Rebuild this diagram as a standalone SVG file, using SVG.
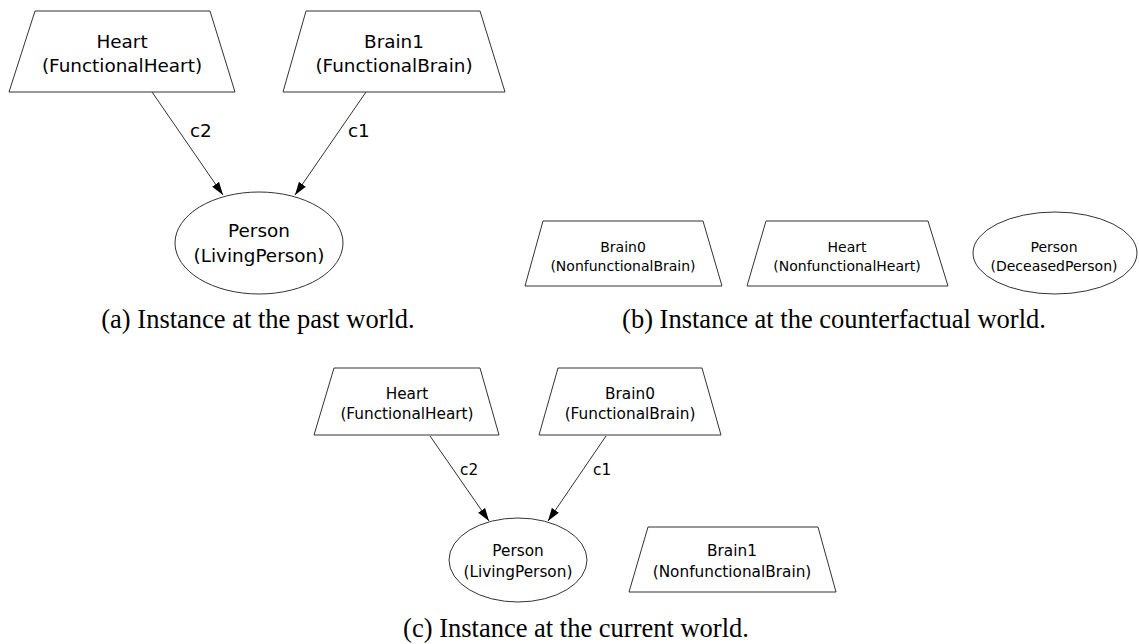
<svg xmlns="http://www.w3.org/2000/svg" width="1139" height="644" viewBox="0 0 1139 644">
  <style>
    .shape { fill: #ffffff; stroke: #333333; stroke-width: 1; }
    .edge { fill: none; stroke: #333333; stroke-width: 1; }
    .lbl { font-family: "DejaVu Sans", sans-serif; fill: #000000; text-anchor: middle; }
    .elbl { font-family: "DejaVu Sans", sans-serif; fill: #000000; }
    .a { font-size: 18.4px; }
    .b { font-size: 14px; }
    .c { font-size: 15.3px; }
    .cap { font-family: "Liberation Serif", serif; font-size: 26.5px; fill: #000000; text-anchor: middle; }
  </style>
  <defs>
    <marker id="arrow" markerUnits="userSpaceOnUse" markerWidth="14" markerHeight="10" refX="13" refY="5" orient="auto">
      <path d="M0,0.8 L13,5 L0,9.2 Z" fill="#000000"/>
    </marker>
  </defs>

  <rect width="1139" height="644" fill="#ffffff"/>

  <!-- (a) past world -->
  <g id="a-connectors">
    <line class="edge" x1="152" y1="92" x2="223" y2="195" marker-end="url(#arrow)"/>
    <line class="edge" x1="366" y1="92" x2="295" y2="195" marker-end="url(#arrow)"/>
    <text class="elbl a" x="190" y="137">c2</text>
    <text class="elbl a" x="348" y="137">c1</text>
  </g>
  <g id="a-heart">
    <polygon class="shape" points="35,11 210,11 235,92 9,92"/>
    <text class="lbl a" x="122" y="48">Heart</text>
    <text class="lbl a" x="122" y="72">(FunctionalHeart)</text>
  </g>
  <g id="a-brain1">
    <polygon class="shape" points="306,11 480,11 505,92 283,92"/>
    <text class="lbl a" x="394" y="48">Brain1</text>
    <text class="lbl a" x="394" y="72">(FunctionalBrain)</text>
  </g>
  <g id="a-person">
    <ellipse class="shape" cx="259" cy="243" rx="84" ry="51"/>
    <text class="lbl a" x="259" y="237">Person</text>
    <text class="lbl a" x="259" y="262">(LivingPerson)</text>
  </g>
  <text class="cap" x="258" y="328">(a) Instance at the past world.</text>

  <!-- (b) counterfactual world -->
  <g id="b-brain0">
    <polygon class="shape" points="543,221 703,221 722,286 525,286"/>
    <text class="lbl b" x="623" y="252">Brain0</text>
    <text class="lbl b" x="623" y="271">(NonfunctionalBrain)</text>
  </g>
  <g id="b-heart">
    <polygon class="shape" points="766,221 928,221 948,286 747,286"/>
    <text class="lbl b" x="847" y="252">Heart</text>
    <text class="lbl b" x="847" y="271">(NonfunctionalHeart)</text>
  </g>
  <g id="b-person">
    <ellipse class="shape" cx="1055" cy="253" rx="82" ry="41"/>
    <text class="lbl b" x="1054" y="252">Person</text>
    <text class="lbl b" x="1054" y="271">(DeceasedPerson)</text>
  </g>
  <text class="cap" x="834" y="328">(b) Instance at the counterfactual world.</text>

  <!-- (c) current world -->
  <g id="c-connectors">
    <line class="edge" x1="430" y1="436" x2="489" y2="521" marker-end="url(#arrow)"/>
    <line class="edge" x1="606" y1="436" x2="548" y2="521" marker-end="url(#arrow)"/>
    <text class="elbl c" x="460" y="475">c2</text>
    <text class="elbl c" x="593" y="475">c1</text>
  </g>
  <g id="c-heart">
    <polygon class="shape" points="334,368 480,368 499,435 314,435"/>
    <text class="lbl c" x="407" y="399">Heart</text>
    <text class="lbl c" x="407" y="419">(FunctionalHeart)</text>
  </g>
  <g id="c-brain0">
    <polygon class="shape" points="558,368 702,368 721,435 539,435"/>
    <text class="lbl c" x="630" y="399">Brain0</text>
    <text class="lbl c" x="630" y="419">(FunctionalBrain)</text>
  </g>
  <g id="c-person">
    <ellipse class="shape" cx="518" cy="560" rx="69" ry="42"/>
    <text class="lbl c" x="518" y="556">Person</text>
    <text class="lbl c" x="518" y="577">(LivingPerson)</text>
  </g>
  <g id="c-brain1">
    <polygon class="shape" points="648,527 818,527 836,592 629,592"/>
    <text class="lbl c" x="732" y="556">Brain1</text>
    <text class="lbl c" x="732" y="577">(NonfunctionalBrain)</text>
  </g>
  <text class="cap" x="576" y="637">(c) Instance at the current world.</text>
</svg>
